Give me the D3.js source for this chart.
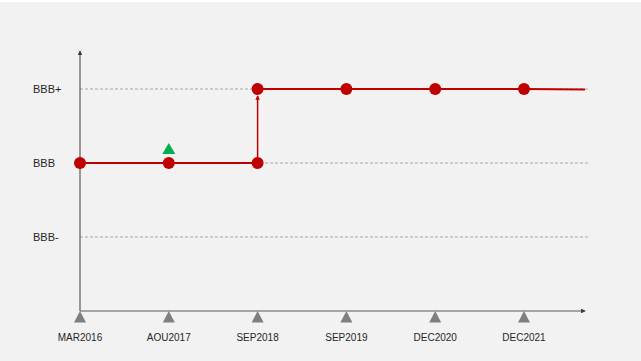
<!DOCTYPE html>
<html><head><meta charset="utf-8">
<script src="https://cdn.jsdelivr.net/npm/d3@7"></script>
<style>html,body{margin:0;padding:0;background:#f2f2f2;}svg{display:block;}</style>
</head><body>
<svg id="c" width="641" height="361"></svg>
<script>
const dates = ["MAR2016","AOU2017","SEP2018","SEP2019","DEC2020","DEC2021"];
const ratingLevels = ["BBB-","BBB","BBB+"];
const ratings = ["BBB","BBB","BBB","BBB+","BBB+","BBB+"];
const upgradeSignals = ["AOU2017"];

const svg = d3.select("#c");
svg.append("rect").attr("width",641).attr("height",361).attr("fill","#f2f2f2");
svg.append("rect").attr("width",641).attr("height",2).attr("fill","#ffffff");

const x = d3.scalePoint().domain(dates).range([80,524]);
const y = d3.scalePoint().domain(ratingLevels).range([237,89]);
const xEnd = 585, yAxisTop = 51, xAxisY = 311;

const defs = svg.append("defs");
defs.append("marker").attr("id","ax").attr("viewBox","0 0 6 6").attr("refX",5).attr("refY",3)
  .attr("markerWidth",4).attr("markerHeight",4).attr("orient","auto")
  .append("path").attr("d","M0,0L6,3L0,6Z").attr("fill","#404040");
defs.append("marker").attr("id","ar").attr("viewBox","0 0 6 6").attr("refX",5).attr("refY",3)
  .attr("markerWidth",3).attr("markerHeight",3).attr("orient","auto")
  .append("path").attr("d","M0,0L6,3L0,6Z").attr("fill","#c00000");

// gridlines
svg.selectAll(".grid").data(ratingLevels).join("line")
  .attr("x1",80).attr("x2",588)
  .attr("y1",d=>y(d)).attr("y2",d=>y(d))
  .attr("stroke","#a6a6a6").attr("stroke-width",1).attr("stroke-dasharray","3,2");

// y labels
svg.selectAll(".yl").data(ratingLevels).join("text")
  .attr("x",33).attr("y",d=>y(d)).attr("dy","0.35em")
  .attr("font-family","Liberation Sans, Arial, sans-serif").attr("font-size",11).attr("fill","#262626")
  .text(d=>d);

// axes
svg.append("line").attr("x1",80).attr("x2",80).attr("y1",xAxisY).attr("y2",yAxisTop)
  .attr("stroke","#595959").attr("stroke-width",1.2).attr("marker-end","url(#ax)");
svg.append("line").attr("x1",80).attr("x2",xEnd).attr("y1",xAxisY).attr("y2",xAxisY)
  .attr("stroke","#595959").attr("stroke-width",1.2).attr("marker-end","url(#ax)");

// tick triangles
svg.selectAll(".tt").data(dates).join("path")
  .attr("d",d=>{const cx=x(d);return `M${cx},${xAxisY}L${cx+6},${xAxisY+11.5}L${cx-6},${xAxisY+11.5}Z`;})
  .attr("fill","#7f7f7f");
svg.selectAll(".tl").data(dates).join("text")
  .attr("x",d=>x(d)).attr("y",337).attr("dy","0.35em").attr("text-anchor","middle")
  .attr("font-family","Liberation Sans, Arial, sans-serif").attr("font-size",10).attr("fill","#262626")
  .text(d=>d);

// rating line segments
const red = "#c00000";
for (let i=0;i<dates.length-1;i++){
  const x0=x(dates[i]), x1=x(dates[i+1]), y0=y(ratings[i]), y1=y(ratings[i+1]);
  if (ratings[i]===ratings[i+1]) {
    svg.append("line").attr("x1",x0).attr("x2",x1).attr("y1",y0).attr("y2",y0).attr("stroke",red).attr("stroke-width",2);
  } else {
    svg.append("line").attr("x1",x0).attr("x2",x0).attr("y1",y0).attr("y2",y1+7)
      .attr("stroke",red).attr("stroke-width",1.5).attr("marker-end","url(#ar)");
    svg.append("line").attr("x1",x0).attr("x2",x1).attr("y1",y1).attr("y2",y1).attr("stroke",red).attr("stroke-width",2);
  }
}
const last = dates.length-1;
svg.append("line").attr("x1",x(dates[last])).attr("x2",xEnd)
  .attr("y1",y(ratings[last])).attr("y2",y(ratings[last])+0.5).attr("stroke",red).attr("stroke-width",2);

// points: SEP2018 has both BBB and BBB+ dots
const pts = dates.map((d,i)=>({d, r: ratings[i]}));
pts.push({d:"SEP2018", r:"BBB+"});
pts[2].r = "BBB";
svg.selectAll(".pt").data(pts).join("circle")
  .attr("cx",p=>x(p.d)).attr("cy",p=>y(p.r)).attr("r",6).attr("fill",red);

// green upgrade signal
svg.selectAll(".up").data(upgradeSignals).join("path")
  .attr("d",d=>{const cx=x(d), cy=y("BBB")-14;return `M${cx},${cy-6}L${cx+6.5},${cy+5}L${cx-6.5},${cy+5}Z`;})
  .attr("fill","#00b050");
</script>
</body></html>
